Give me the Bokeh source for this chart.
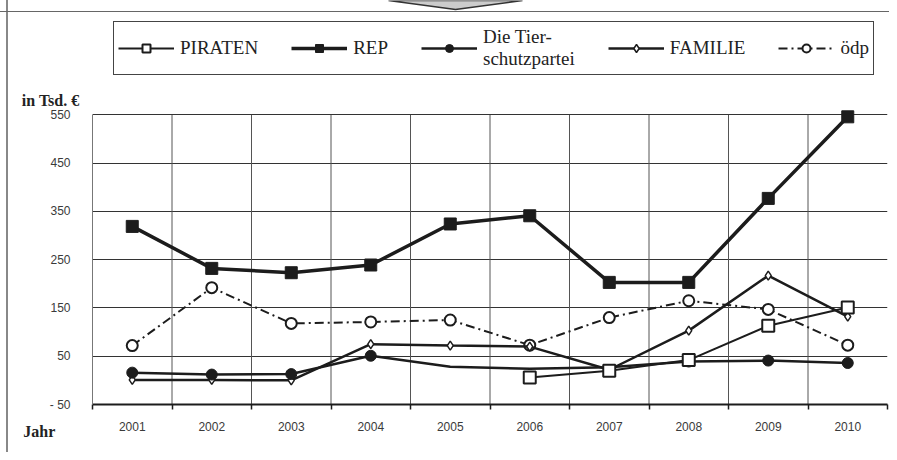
import math
from bokeh.plotting import figure
from bokeh.models import (FixedTicker, Legend, LegendItem, LinearAxis, Range1d, ColumnDataSource)
from bokeh.embed import file_html
from bokeh.resources import INLINE

years = [2001, 2002, 2003, 2004, 2005, 2006, 2007, 2008, 2009, 2010]
piraten = [math.nan, math.nan, math.nan, math.nan, math.nan, 6, 20, 42, 113, 151]
rep = [319, 232, 223, 239, 324, 341, 203, 203, 377, 546]
tierschutz = [16, 12, 13, 51, 28, 24, 27, 39, 41, 36]
tierschutz_marker = [True, True, True, True, False, False, False, True, True, True]
familie = [1, 1, 0, 75, 72, 70, 22, 103, 217, 132]
oedp = [72, 192, 118, 121, 125, 73, 130, 165, 147, 73]
y_ticks = [-50, 50, 150, 250, 350, 450, 550]
y_tick_labels = {-50: "- 50"}
series_names = ["PIRATEN", "REP", "Die Tier-\nschutzpartei", "FAMILIE", "ödp"]
unit_label = "in Tsd. €"
x_title = "Jahr"

INK = "#1c1c1c"
W, H = 889, 452
Y_TOP = 787          # frame reaches the top of the canvas (room for the legend)
UNIT_LABEL_AT = 580  # vertical position of "in Tsd. €" (layout, in axis units)

p = figure(width=W, height=H, output_backend="svg", toolbar_location=None,
           x_range=Range1d(years[0] - 0.5, years[-1] + 0.5),
           y_range=Range1d(y_ticks[0], Y_TOP),
           min_border_left=92, min_border_right=2, min_border_top=0, min_border_bottom=48)
p.outline_line_color = None
p.background_fill_alpha = 0
p.border_fill_alpha = 0
p.styles = {
    "background": "linear-gradient(#666,#666) 0 11px / 100% 1px no-repeat, "
                  "linear-gradient(#888,#888) 6px 0 / 2px 100% no-repeat, white",
}

# x axis
xa = p.xaxis[0]
bounds_x = [y - 0.5 for y in years] + [years[-1] + 0.5]
xa.ticker = FixedTicker(ticks=years, minor_ticks=bounds_x)
xa.major_label_overrides = {y: str(y) for y in years}
xa.major_tick_out = 0
xa.major_tick_in = 0
xa.minor_tick_out = 5
xa.minor_tick_in = 0
xa.minor_tick_line_color = INK
xa.minor_tick_line_width = 1.5
xa.axis_line_color = INK
xa.axis_line_width = 2
xa.major_label_standoff = 12
xa.major_label_text_font = "Liberation Sans"
xa.major_label_text_font_size = "12px"
xa.major_label_text_color = "#3a3a3a"

# y axis
ya = p.yaxis[0]
ya.ticker = FixedTicker(ticks=y_ticks)
ya.major_label_overrides = y_tick_labels
ya.bounds = (y_ticks[0], y_ticks[-1])
ya.major_tick_out = 0
ya.major_tick_in = 0
ya.minor_tick_out = 0
ya.minor_tick_in = 0
ya.axis_line_color = "#777777"
ya.axis_line_width = 1
ya.major_label_standoff = 22
ya.major_label_text_font = "Liberation Sans"
ya.major_label_text_font_size = "12px"
ya.major_label_text_color = "#3a3a3a"

# unit label as an extra (line-less) axis on the left
unit_axis = LinearAxis(ticker=FixedTicker(ticks=[UNIT_LABEL_AT], minor_ticks=[]),
                       major_label_overrides={UNIT_LABEL_AT: unit_label},
                       axis_line_color=None, major_tick_out=0, major_tick_in=0,
                       minor_tick_out=0, minor_tick_in=0, major_label_standoff=-33,
                       major_label_text_font="Liberation Serif", major_label_text_font_size="16px",
                       major_label_text_font_style="bold", major_label_text_color="#222222")
p.add_layout(unit_axis, "left")

# "Jahr" as an extra (line-less) axis below
jahr_at = years[0] - 0.49
jahr_axis = LinearAxis(ticker=FixedTicker(ticks=[jahr_at], minor_ticks=[]),
                       major_label_overrides={jahr_at: x_title + "\u00a0" * 27},
                       axis_line_color=None, major_tick_out=0, major_tick_in=0,
                       minor_tick_out=0, minor_tick_in=0, major_label_standoff=-11,
                       major_label_text_font="Liberation Serif", major_label_text_font_size="16px",
                       major_label_text_font_style="bold", major_label_text_color="#222222")
p.add_layout(jahr_axis, "below")

# grid: horizontal lines from the axis ticker, vertical lines between the years
p.xgrid.visible = False
p.ygrid.ticker = FixedTicker(ticks=y_ticks[1:])
p.ygrid.grid_line_color = "#333333"
p.ygrid.grid_line_width = 1
inner_bounds = bounds_x[1:-1]
p.segment(x0=inner_bounds, y0=[y_ticks[0]] * len(inner_bounds), x1=inner_bounds,
          y1=[y_ticks[-1]] * len(inner_bounds), line_color="#555555", line_width=1)

# decorative grey pointer at the top edge (page decoration, given in pixels)
px_per_x = (W - 92 - 2) / (years[-1] - years[0] + 1)
px_per_y = (H - 48) / (Y_TOP - y_ticks[0])
arrow_px = [(388, 0), (455, 9), (522, 0)]
p.patch(x=[years[0] - 0.5 + (ax - 92) / px_per_x for ax, ay in arrow_px],
        y=[Y_TOP - ay / px_per_y for ax, ay in arrow_px],
        fill_color="#cccccc", line_color="#333333", line_width=1.5)

# series
src = ColumnDataSource(dict(x=years, piraten=piraten, rep=rep, tier=tierschutz,
                            familie=familie, oedp=oedp))
tier_x = [y for y, m in zip(years, tierschutz_marker) if m]
tier_y = [v for v, m in zip(tierschutz, tierschutz_marker) if m]

r_oedp_l = p.line("x", "oedp", source=src, line_color=INK, line_width=2, line_dash="9 4 2 4")
r_oedp_m = p.scatter("x", "oedp", source=src, marker="circle", size=11, fill_color="white",
                     line_color=INK, line_width=2)
r_fam_l = p.line("x", "familie", source=src, line_color=INK, line_width=2.5)
r_fam_m = p.scatter("x", "familie", source=src, marker="diamond", size=9, fill_color="white",
                    line_color=INK, line_width=1.5)
r_tier_l = p.line("x", "tier", source=src, line_color=INK, line_width=2.5)
r_tier_m = p.scatter(tier_x, tier_y, marker="circle", size=11, fill_color=INK, line_color=INK)
r_rep_l = p.line("x", "rep", source=src, line_color=INK, line_width=3.5)
r_rep_m = p.scatter("x", "rep", source=src, marker="square", size=12, fill_color=INK, line_color=INK)
r_pir_l = p.line("x", "piraten", source=src, line_color=INK, line_width=2)
r_pir_m = p.scatter("x", "piraten", source=src, marker="square", size=12, fill_color="white",
                    line_color=INK, line_width=2)

items = [
    LegendItem(label=series_names[0], renderers=[r_pir_l, r_pir_m]),
    LegendItem(label=series_names[1], renderers=[r_rep_l, r_rep_m]),
    LegendItem(label=series_names[2], renderers=[r_tier_l, r_tier_m]),
    LegendItem(label=series_names[3], renderers=[r_fam_l, r_fam_m]),
    LegendItem(label=series_names[4], renderers=[r_oedp_l, r_oedp_m]),
]
legend = Legend(items=items, orientation="horizontal", location=(21, 329),
                padding=4, margin=0, spacing=33, glyph_width=56, glyph_height=20,
                label_standoff=6, label_text_font="Liberation Serif",
                label_text_font_size="19px", label_text_line_height=1.16,
                label_text_color="#222222",
                border_line_color="#444444", border_line_width=1.5, border_line_alpha=1,
                background_fill_color="white", background_fill_alpha=1)
p.add_layout(legend, "center")

open("out.html", "w").write(file_html(p, INLINE))
